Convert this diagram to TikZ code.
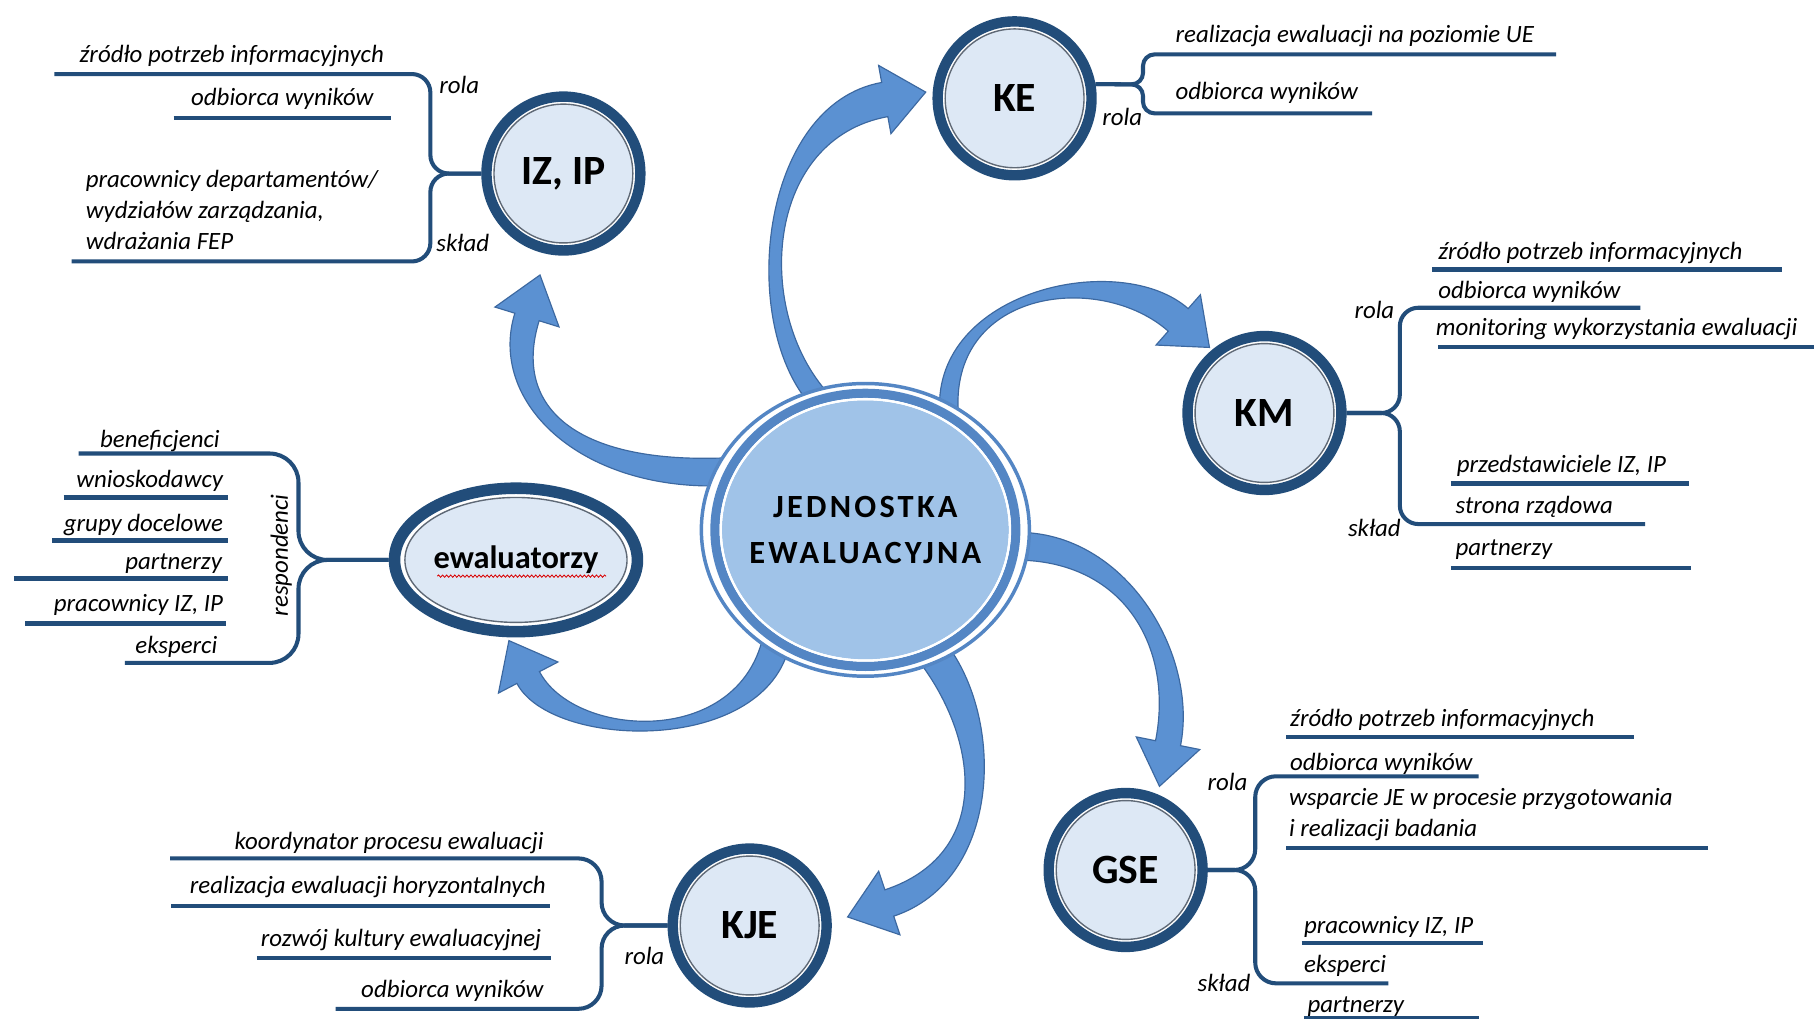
\documentclass[tikz,border=0pt]{standalone}
\usepackage{fontspec}
\setmainfont{Carlito}
\usetikzlibrary{calc,backgrounds,decorations.pathmorphing,shapes.geometric}
\definecolor{navy}{RGB}{34,77,122}
\definecolor{satfill}{RGB}{221,232,245}
\definecolor{cfill}{RGB}{160,195,232}
\definecolor{cring}{RGB}{84,134,196}
\definecolor{arrfill}{RGB}{91,145,210}
\definecolor{arrdraw}{RGB}{60,104,160}
\definecolor{thinring}{RGB}{95,105,118}
% tapered curved arrow: #1 tail, #2 c1, #3 c2, #4 tip, #5 half width tail, #6 half width head end, #7 head length, #8 head half width
\newcommand{\tarrow}[8]{%
  \coordinate (tA) at #1;
  \coordinate (tB) at #2;
  \coordinate (tC) at #3;
  \coordinate (tT) at #4;
  \coordinate (tD) at ($(tT)!#7!(tC)$);
  \filldraw[arr] ($(tA)!#5!90:(tB)$) .. controls ($(tB)!#5!-90:(tA)$) and ($(tC)!#6!90:(tD)$) .. ($(tD)!#6!-90:(tC)$)
    -- ($(tD)!#8!-90:(tC)$) -- (tT) -- ($(tD)!#8!90:(tC)$)
    -- ($(tD)!#6!90:(tC)$) .. controls ($(tC)!#6!-90:(tD)$) and ($(tB)!#5!90:(tA)$) .. ($(tA)!#5!-90:(tB)$) -- cycle;
}
\tikzset{
  sat/.style={circle, draw=navy, line width=9pt, fill=white, minimum size=133pt, inner sep=0pt,
    font=\fontsize{36}{40}\selectfont\bfseries,
    path picture={\draw[thinring, line width=1.2pt, fill=satfill] (path picture bounding box.center) circle[radius=60pt];}},
  ewn/.style={ellipse, draw=navy, line width=10pt, fill=white, minimum width=210pt, minimum height=124pt, inner sep=0pt,
    font=\fontsize{28}{32}\selectfont\bfseries,
    path picture={\draw[thinring, line width=1.2pt, fill=satfill] (path picture bounding box.center) ellipse[x radius=96pt, y radius=54pt];}},
  jen/.style={ellipse, draw=cring, line width=3pt, fill=white, minimum width=277pt, minimum height=253pt, inner sep=0pt,
    align=center, font=\fontsize{28}{40}\selectfont\bfseries\addfontfeature{LetterSpace=10},
    path picture={
      \fill[cfill] (path picture bounding box.center) ellipse[x radius=124pt, y radius=112pt];
      \draw[cring, line width=8pt] (path picture bounding box.center) ellipse[x radius=130pt, y radius=118pt];
      \draw[white, line width=2pt] (path picture bounding box.center) ellipse[x radius=125pt, y radius=113pt];}},
  txt/.style={inner sep=0pt, font=\fontsize{21.5}{25}\selectfont\itshape},
  br/.style={navy, line width=3.5pt, rounded corners=16pt},
  ul/.style={navy, line width=4pt},
  arr/.style={fill=arrfill, draw=arrdraw, line width=1pt},
}
\begin{document}
\begin{tikzpicture}[x=1pt, y=-1pt]
\useasboundingbox (0,0) rectangle (1568,880);

% main nodes
\node[jen] (je) at (748,458) {JEDNOSTKA\\EWALUACYJNA};
\node[sat] (iz) at (487,150) {IZ, IP};
\node[sat] (ke) at (877,85) {KE};
\node[sat] (km) at (1093,357) {KM};
\node[sat] (kje) at (648,800) {KJE};
\node[sat] (gse) at (973,752) {GSE};
\node[ewn] (ew) at (446,484) {ewaluatorzy};
\draw[red!85!black, line width=0.7pt, decorate, decoration={snake, amplitude=1pt, segment length=3.5pt}] (378,498) -- (524,498);

% IZ, IP
\node[txt, anchor=base east] (iz1) at (332,54) {źródło potrzeb informacyjnych};
\node[txt, anchor=base east] (iz2) at (323,91) {odbiorca wyników};
\node[txt, anchor=base west] (iz3) at (74,162) {pracownicy departamentów/};
\node[txt, anchor=base west] (iz4) at (74,189) {wydziałów zarządzania,};
\node[txt, anchor=base west] (iz5) at (74,216) {wdrażania FEP};
\node[txt] (izr) at (397,73) {rola};
\node[txt] (izs) at (400,210) {skład};
\draw[ul] (150,102) -- (338,102);

% KE
\node[txt, anchor=base west] (ke1) at (1016,37) {realizacja ewaluacji na poziomie UE};
\node[txt, anchor=base west] (ke2) at (1016,86) {odbiorca wyników};
\node[txt] (ker) at (970,101) {rola};

% KM
\node[txt, anchor=base west] (km1) at (1243,224) {źródło potrzeb informacyjnych};
\node[txt, anchor=base west] (km2) at (1243,258) {odbiorca wyników};
\node[txt, anchor=base west] (km3) at (1241,290) {monitoring wykorzystania ewaluacji};
\node[txt, anchor=base west] (km4) at (1259,408) {przedstawiciele IZ, IP};
\node[txt, anchor=base west] (km5) at (1258,444) {strona rządowa};
\node[txt, anchor=base west] (km6) at (1258,480) {partnerzy};
\node[txt] (kmr) at (1188,268) {rola};
\node[txt] (kms) at (1188,456) {skład};
\draw[ul] (1238,233) -- (1540,233);
\draw[ul] (1243,300) -- (1568,300);
\draw[ul] (1254,418) -- (1460,418);
\draw[ul] (1254,491) -- (1462,491);

% ewaluatorzy
\node[txt, anchor=base east] (ew1) at (190,387) {beneficjenci};
\node[txt, anchor=base east] (ew2) at (193,421) {wnioskodawcy};
\node[txt, anchor=base east] (ew3) at (193,459) {grupy docelowe};
\node[txt, anchor=base east] (ew4) at (192,492) {partnerzy};
\node[txt, anchor=base east] (ew5) at (193,529) {pracownicy IZ, IP};
\node[txt, anchor=base east] (ew6) at (188,565) {eksperci};
\node[txt, rotate=90] (ewr) at (243,480) {respondenci};
\draw[ul] (55,430) -- (197,430);
\draw[ul] (45,467) -- (197,467);
\draw[ul] (12,500) -- (197,500);
\draw[ul] (22,539) -- (195,539);

% KJE
\node[txt, anchor=base east] (kj1) at (470,734) {koordynator procesu ewaluacji};
\node[txt, anchor=base east] (kj2) at (472,772) {realizacja ewaluacji horyzontalnych};
\node[txt, anchor=base east] (kj3) at (468,818) {rozwój kultury ewaluacyjnej};
\node[txt, anchor=base east] (kj4) at (470,862) {odbiorca wyników};
\node[txt] (kjr) at (557,826) {rola};
\draw[ul] (148,783) -- (475,783);
\draw[ul] (222,828) -- (476,828);

% GSE
\node[txt, anchor=base west] (gs1) at (1115,628) {źródło potrzeb informacyjnych};
\node[txt, anchor=base west] (gs2) at (1115,666) {odbiorca wyników};
\node[txt, anchor=base west] (gs3) at (1114,696) {wsparcie JE w procesie przygotowania};
\node[txt, anchor=base west] (gs4) at (1114,723) {i realizacji badania};
\node[txt, anchor=base west] (gs5) at (1127,807) {pracownicy IZ, IP};
\node[txt, anchor=base west] (gs6) at (1127,841) {eksperci};
\node[txt, anchor=base west] (gs7) at (1130,875) {partnerzy};
\node[txt] (gsr) at (1061,676) {rola};
\node[txt] (gss) at (1058,850) {skład};
\draw[ul] (1112,637) -- (1412,637);
\draw[ul] (1112,733) -- (1476,733);
\draw[ul] (1125,815) -- (1282,815);
\draw[ul] (1127,880) -- (1278,880);

\begin{pgfonlayer}{background}
  \fill[white] (0,0) rectangle (1568,880);
  % arrows
  \tarrow{($(je.center)!0.95!(je.158)$)}{(500,412)}{(432,350)}{($(iz.center)!90pt!(iz.257)$)}{12pt}{11pt}{38pt}{29pt}
  \tarrow{($(je.center)!0.95!(je.110)$)}{(645,270)}{(660,105)}{($(ke.center)!77pt!(ke.176)$)}{9pt}{15pt}{36pt}{30pt}
  \tarrow{($(je.center)!0.95!(je.55)$)}{(815,250)}{(960,225)}{($(km.center)!74pt!(km.130)$)}{8pt}{13pt}{36pt}{29pt}
  \tarrow{($(je.center)!0.95!(je.354)$)}{(975,475)}{(1025,565)}{($(gse.center)!78pt!(gse.68)$)}{12pt}{11pt}{38pt}{28pt}
  \tarrow{($(je.center)!0.95!(je.299)$)}{(858,635)}{(860,750)}{($(kje.center)!85pt!(kje.5)$)}{14pt}{12pt}{38pt}{29pt}
  \tarrow{($(je.center)!0.95!(je.232)$)}{(645,650)}{(486,642)}{($(ew.center)!70pt!(ew.265)$)}{12pt}{11pt}{36pt}{29pt}
  % branches
  \draw[br] (iz.west) -- (372,150) -- (372,64) -- (47,64);
  \draw[br] (iz.west) -- (372,150) -- (372,226) -- (62,226);
  \draw[br, rounded corners=10pt] (ke.10) -- (988,73) -- (988,47) -- (1345,47);
  \draw[br, rounded corners=10pt] (ke.10) -- (988,73) -- (988,98) -- (1186,98);
  \draw[br] (km.east) -- (1210,357) -- (1210,266) -- (1418,266);
  \draw[br] (km.east) -- (1210,357) -- (1210,453) -- (1422,453);
  \draw[br, rounded corners=25pt] (ew.west) -- (258,484) -- (258,392) -- (68,392);
  \draw[br, rounded corners=25pt] (ew.west) -- (258,484) -- (258,573) -- (108,573);
  \draw[br, rounded corners=20pt] (kje.west) -- (520,800) -- (520,742) -- (147,742);
  \draw[br, rounded corners=20pt] (kje.west) -- (520,800) -- (520,872) -- (290,872);
  \draw[br, rounded corners=18pt] (gse.east) -- (1085,752) -- (1085,671) -- (1278,671);
  \draw[br, rounded corners=18pt] (gse.east) -- (1085,752) -- (1085,850) -- (1200,850);
\end{pgfonlayer}
\end{tikzpicture}
\end{document}
